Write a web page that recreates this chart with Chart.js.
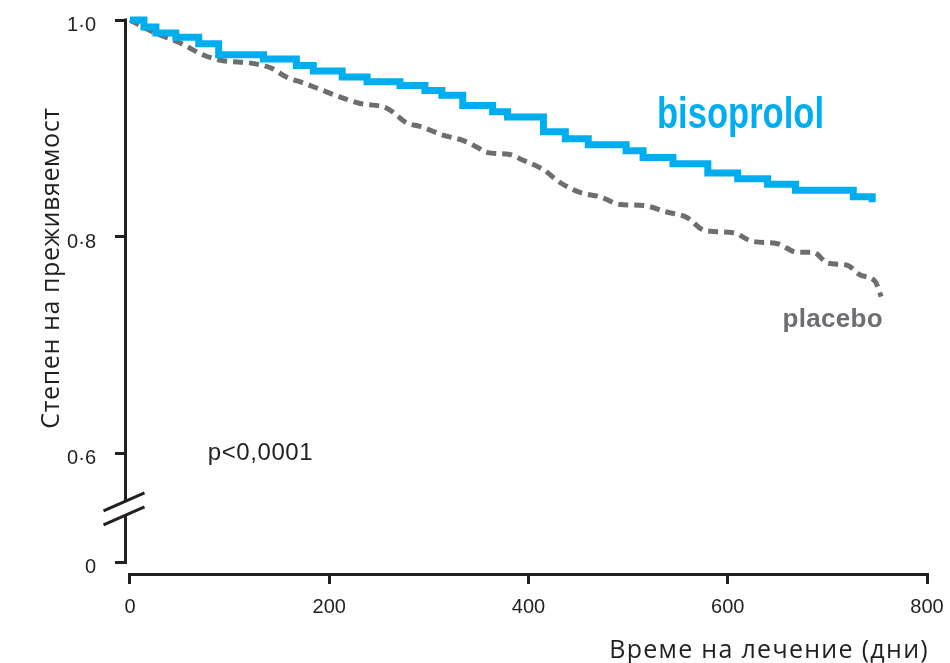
<!DOCTYPE html>
<html>
<head>
<meta charset="utf-8">
<script src="https://cdn.jsdelivr.net/npm/chart.js@4.4.0/dist/chart.umd.min.js"></script>
<style>
  html, body { margin: 0; padding: 0; background: #fff; }
  canvas { display: block; }
</style>
</head>
<body>
<canvas id="km" width="950" height="663"></canvas>
<script>
/* ======================================================
    DATA
====================================================== */
const bisoDays = [0, 14, 26, 46, 69, 89, 134, 167, 184, 213, 238, 271, 296, 313, 334, 364, 379, 415, 437, 460, 498, 515, 545, 580, 610, 640, 668, 726, 745, 745];
const bisoSurv = [1.000, 0.9935, 0.988, 0.984, 0.978, 0.968, 0.964, 0.958, 0.953, 0.9475, 0.943, 0.9396, 0.935, 0.9306, 0.9212, 0.9155, 0.9106, 0.897, 0.8905, 0.885, 0.8794, 0.8733, 0.8676, 0.859, 0.8536, 0.8487, 0.843, 0.8372, 0.8372, 0.832];

const placDays = [0, 23, 50, 73, 90, 123, 141, 158, 174, 191, 214, 231, 254, 261, 278, 291, 314, 334, 348, 358, 381, 394, 415, 432, 452, 472, 492, 515, 539, 559, 577, 605, 625, 649, 670, 686, 700, 720, 733, 748, 754];
const placSurv = [1.0, 0.989, 0.979, 0.968, 0.963, 0.960, 0.956, 0.947, 0.942, 0.936, 0.928, 0.923, 0.920, 0.917, 0.905, 0.902, 0.894, 0.889, 0.883, 0.878, 0.876, 0.871, 0.862, 0.850, 0.841, 0.837, 0.830, 0.829, 0.823, 0.818, 0.806, 0.804, 0.796, 0.794, 0.786, 0.786, 0.776, 0.774, 0.765, 0.759, 0.745];

const xTicks = [0, 200, 400, 600, 800];
const yTicks = [0.5, 0.6, 0.8, 1.0];          // 0.5 slot sits below the axis break and reads "0"
const yTickLabels = ['0', '0·6', '0·8', '1·0'];

const seriesNames = ['bisoprolol', 'placebo'];
const pValueText = 'p<0,0001';
const xTitle = 'Време на лечение (дни)';
const yTitle = 'Степен на преживяемост';

/* ======================================================
    STYLE
====================================================== */
const INK = '#231f20';
const BLUE = '#00aeef';
const GREY = '#6d6e71';
const TICK_FONT = { family: "'Liberation Sans', Arial, sans-serif", size: 20 };

// label anchors in data units [day, survival]
const anchors = {
    biso: [529, 0.9005],
    plac: [655, 0.717],
    pval: [78, 0.5945]
};

/* ======================================================
    DECORATION PLUGIN (axis lines, break, text)
====================================================== */
const decor = {
    id: 'decor',
    afterDraw(chart) {
        const { ctx, chartArea, scales: { x, y } } = chart;
        ctx.save();
        ctx.strokeStyle = INK;
        ctx.lineWidth = 3;
        ctx.lineCap = 'butt';

        // y axis, interrupted by the break
        const ax = chartArea.left - 1.5;
        const yc = y.getPixelForValue(0.55);
        ctx.beginPath();
        ctx.moveTo(ax, y.getPixelForValue(1.0) - 1.5);
        ctx.lineTo(ax, yc - 7);
        ctx.moveTo(ax, yc + 7);
        ctx.lineTo(ax, y.getPixelForValue(0.5) + 1.5);
        ctx.stroke();

        // break slashes
        [-7, 7].forEach(off => {
            const c = yc + off;
            ctx.beginPath();
            ctx.moveTo(ax - 22, c + 9.7);
            ctx.lineTo(ax + 19, c - 8.3);
            ctx.stroke();
        });

        // x axis
        const ay = chartArea.bottom + 1.5;
        ctx.beginPath();
        ctx.moveTo(x.getPixelForValue(0) - 1.5, ay);
        ctx.lineTo(x.getPixelForValue(800) + 1.5, ay);
        ctx.stroke();

        // series labels
        ctx.textBaseline = 'alphabetic';
        ctx.textAlign = 'left';

        // bisoprolol is set in a condensed face: squeeze a bold sans horizontally
        ctx.save();
        ctx.fillStyle = BLUE;
        ctx.font = "bold 44px 'Liberation Sans', Arial, sans-serif";
        const bx = x.getPixelForValue(anchors.biso[0]);
        const by = y.getPixelForValue(anchors.biso[1]);
        const squeeze = 167 / ctx.measureText(seriesNames[0]).width;
        ctx.translate(bx, by);
        ctx.scale(squeeze, 1);
        ctx.fillText(seriesNames[0], 0, 0);
        ctx.restore();

        ctx.fillStyle = GREY;
        ctx.font = "bold 26px 'Liberation Sans', Arial, sans-serif";
        ctx.letterSpacing = '0.3px';
        ctx.fillText(seriesNames[1], x.getPixelForValue(anchors.plac[0]), y.getPixelForValue(anchors.plac[1]));

        ctx.fillStyle = INK;
        ctx.font = "24px 'Liberation Sans', Arial, sans-serif";
        ctx.letterSpacing = '0.6px';
        ctx.fillText(pValueText, x.getPixelForValue(anchors.pval[0]), y.getPixelForValue(anchors.pval[1]));

        // axis titles
        ctx.font = "25px 'Open Sans', sans-serif";
        ctx.letterSpacing = '1.3px';
        ctx.textAlign = 'right';
        ctx.fillText(xTitle, chartArea.right + 2, 658);

        ctx.letterSpacing = '0.6px';
        ctx.translate(59, 268);
        ctx.rotate(-Math.PI / 2);
        ctx.textAlign = 'center';
        ctx.fillText(yTitle, 0, 0);
        ctx.restore();
    }
};

/* ======================================================
    CHART
====================================================== */
const toPoints = (xs, ys) => xs.map((d, i) => ({ x: d, y: ys[i] }));

new Chart(document.getElementById('km').getContext('2d'), {
    type: 'line',
    data: {
        datasets: [
            {
                label: seriesNames[0],
                data: toPoints(bisoDays, bisoSurv),
                borderColor: BLUE,
                borderWidth: 7,
                stepped: true,
                pointRadius: 0,
                fill: false,
                clip: false
            },
            {
                label: seriesNames[1],
                data: toPoints(placDays, placSurv),
                borderColor: GREY,
                borderWidth: 5,
                borderDash: [10, 6],
                cubicInterpolationMode: 'monotone',
                pointRadius: 0,
                fill: false,
                clip: false
            }
        ]
    },
    options: {
        responsive: false,
        animation: false,
        devicePixelRatio: 1,
        layout: { padding: { top: 20, right: 23, bottom: 0, left: 0 } },
        plugins: { legend: { display: false }, tooltip: { enabled: false } },
        scales: {
            x: {
                type: 'linear',
                min: -3,
                max: 800,
                afterBuildTicks: s => { s.ticks = xTicks.map(v => ({ value: v })); },
                afterFit: s => { s.height = 90; s.paddingLeft = 0; s.paddingRight = 0; },
                border: { display: false },
                grid: { display: true, drawOnChartArea: false, drawTicks: true, tickLength: 11, lineWidth: 3, color: INK },
                ticks: { color: INK, font: TICK_FONT, padding: 11, maxRotation: 0, autoSkip: false }
            },
            y: {
                type: 'linear',
                min: 0.4903,
                max: 1.0,
                afterBuildTicks: s => { s.ticks = yTicks.map(v => ({ value: v })); },
                afterFit: s => { s.width = 127; s.paddingTop = 0; s.paddingBottom = 0; },
                border: { display: false },
                grid: { display: true, drawOnChartArea: false, drawTicks: true, tickLength: 12, lineWidth: 3, color: INK },
                ticks: {
                    color: INK, font: TICK_FONT, padding: 19, autoSkip: false, labelOffset: 5,
                    callback: v => yTickLabels[yTicks.indexOf(v)] ?? ''
                }
            }
        }
    },
    plugins: [decor]
});
</script>
</body>
</html>
